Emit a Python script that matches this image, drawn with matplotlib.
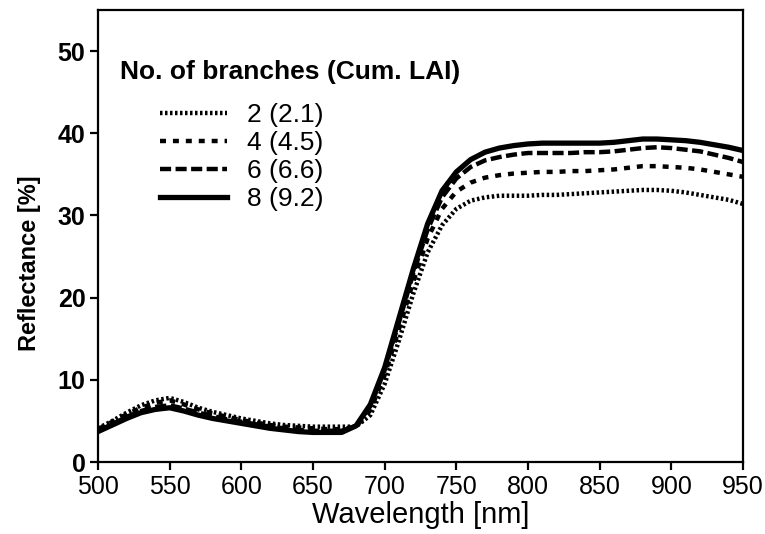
import numpy as np
import matplotlib
matplotlib.use("Agg")
import matplotlib.pyplot as plt

plt.rcParams["font.family"] = ["Liberation Sans", "DejaVu Sans"]
plt.rcParams["lines.scale_dashes"] = False

wavelength = np.arange(500, 951, 10)

# canopy reflectance per number of branches (cumulative LAI)
refl_2 = [4.1, 5.0, 6.0, 6.9, 7.5, 7.8, 7.3, 6.6, 6.1, 5.7,
          5.3, 5.0, 4.7, 4.5, 4.4, 4.3, 4.3, 4.3, 4.3, 5.7,
          9.5, 14.8, 20.5, 25.5, 28.8, 30.8, 31.8, 32.2, 32.4, 32.4,
          32.4, 32.5, 32.5, 32.6, 32.7, 32.8, 32.9, 33.0, 33.1, 33.1,
          33.0, 32.8, 32.5, 32.2, 31.9, 31.4]
refl_4 = [4.0, 4.9, 5.8, 6.6, 7.2, 7.5, 7.0, 6.4, 5.9, 5.5,
          5.1, 4.8, 4.5, 4.3, 4.2, 4.1, 4.0, 4.0, 4.3, 6.3,
          10.6, 16.2, 22.0, 27.2, 30.8, 32.9, 34.0, 34.6, 34.9, 35.1,
          35.2, 35.3, 35.3, 35.4, 35.4, 35.5, 35.6, 35.8, 36.0, 36.0,
          35.9, 35.8, 35.6, 35.3, 35.0, 34.7]
refl_6 = [3.8, 4.6, 5.5, 6.2, 6.7, 6.9, 6.5, 6.0, 5.6, 5.2,
          4.9, 4.6, 4.3, 4.1, 3.9, 3.8, 3.8, 3.8, 4.4, 6.8,
          11.2, 17.0, 23.0, 28.3, 32.2, 34.5, 35.9, 36.7, 37.1, 37.4,
          37.6, 37.6, 37.6, 37.6, 37.7, 37.7, 37.8, 38.0, 38.2, 38.3,
          38.2, 38.0, 37.8, 37.4, 37.0, 36.5]
refl_8 = [3.7, 4.5, 5.3, 6.0, 6.4, 6.6, 6.2, 5.7, 5.3, 5.0,
          4.7, 4.4, 4.1, 3.9, 3.7, 3.6, 3.6, 3.6, 4.4, 7.0,
          11.5, 17.5, 23.5, 29.0, 33.0, 35.3, 36.8, 37.7, 38.2, 38.5,
          38.7, 38.8, 38.8, 38.8, 38.8, 38.8, 38.9, 39.1, 39.3, 39.3,
          39.2, 39.1, 38.9, 38.6, 38.3, 37.9]

labels = ["2 (2.1)", "4 (4.5)", "6 (6.6)", "8 (9.2)"]
series = [refl_2, refl_4, refl_6, refl_8]
dash_styles = [(0, (1.8, 1.8)), (0, (4.3, 5.0)), (0, (8.0, 3.2)), "-"]
widths = [3.2, 3.2, 3.2, 3.8]

fig = plt.figure(figsize=(7.65, 5.34), dpi=100)
ax = fig.add_axes([98 / 765, 1 - 462 / 534, 645 / 765, 452 / 534])

for y, lab, ls, lw in zip(series, labels, dash_styles, widths):
    ax.plot(wavelength, y, color="black", linestyle=ls, linewidth=lw, label=lab)

ax.set_xlim(500, 950)
ax.set_ylim(0, 55)
ax.set_xticks(np.arange(500, 951, 50))
ax.set_yticks(np.arange(0, 51, 10))
for s in ax.spines.values():
    s.set_linewidth(1.6)
ax.tick_params(direction="out", length=6, width=1.6, pad=3)
for t in ax.get_xticklabels():
    t.set_fontsize(18)
for t in ax.get_yticklabels():
    t.set_fontsize(18)
    t.set_fontweight("bold")

ax.set_xlabel("Wavelength [nm]", fontsize=21, labelpad=2)
ax.set_ylabel("Reflectance [%]", fontsize=17, fontweight="bold", labelpad=12)
ax.yaxis.label.set_y(0.44)

fig.text(120 / 765, 1 - 72 / 534, "No. of branches (Cum. LAI)", fontsize=19,
         fontweight="bold", va="center", ha="left")
ax.legend(loc="upper left", bbox_to_anchor=(160 / 765, 1 - 103 / 534),
          bbox_transform=fig.transFigure, frameon=False, fontsize=19,
          handlelength=2.55, handletextpad=0.75, labelspacing=0.15,
          borderpad=0, borderaxespad=0)

fig.savefig("out.png", dpi=100)
